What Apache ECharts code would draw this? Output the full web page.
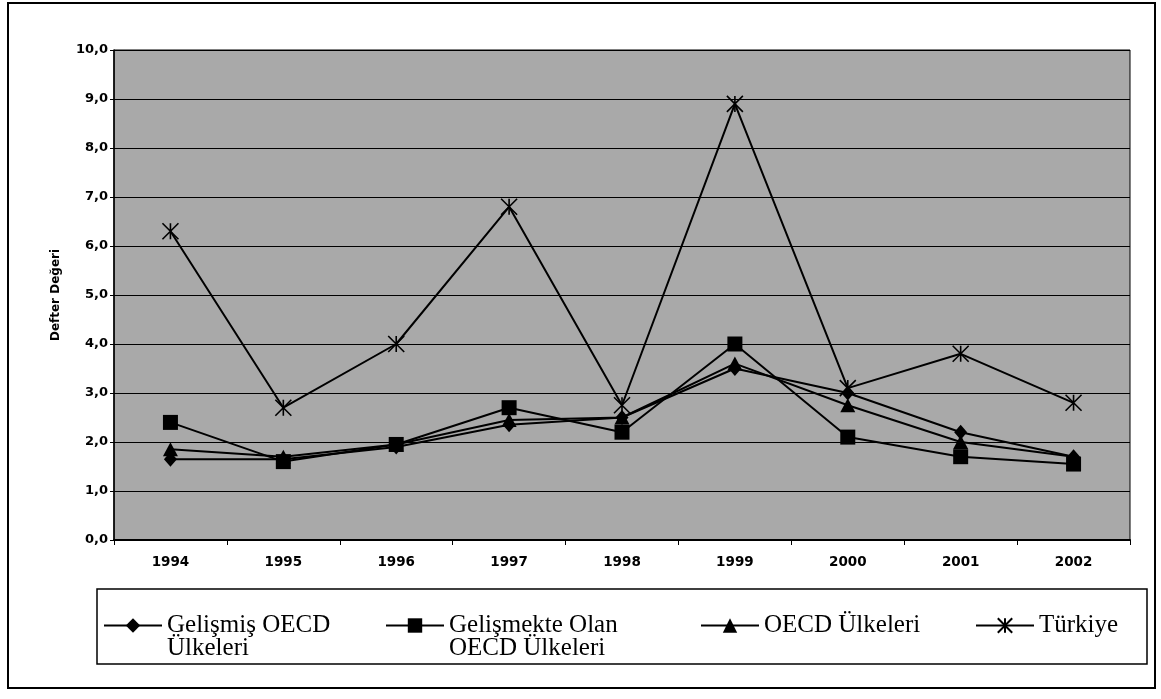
<!DOCTYPE html>
<html><head><meta charset="utf-8">
<script src="https://cdn.jsdelivr.net/npm/echarts@6/dist/echarts.min.js"></script>
<style>html,body{margin:0;padding:0;background:#fff}#c{width:1161px;height:699px}</style>
</head><body><div id="c"></div>
<script>
const years = ['1994','1995','1996','1997','1998','1999','2000','2001','2002'];
const gelismis   = [1.65, 1.65, 1.90, 2.35, 2.50, 3.50, 3.00, 2.20, 1.70];
const gelismekte = [2.40, 1.60, 1.95, 2.70, 2.20, 4.00, 2.10, 1.70, 1.55];
const oecd       = [1.85, 1.70, 1.95, 2.45, 2.50, 3.60, 2.75, 2.00, 1.70];
const turkiye    = [6.30, 2.70, 4.00, 6.80, 2.75, 8.90, 3.10, 3.80, 2.80];
const seriesNames = ['Gelişmiş OECD Ülkeleri','Gelişmekte Olan OECD Ülkeleri','OECD Ülkeleri','Türkiye'];
const legendLabels = ['\nGelişmiş OECD\nÜlkeleri','\nGelişmekte Olan\nOECD Ülkeleri','OECD Ülkeleri','Türkiye'];
const yAxisName = 'Defter Değeri';

const STAR = 'path://M0,0L20,20M20,0L0,20M10,0L10,20';
const symbols = ['diamond','rect','triangle',STAR];
const symSizes = [[13,15],15,[15,14],16];
const values = [gelismis, gelismekte, oecd, turkiye];
const legendLefts = [103, 385, 700, 975];
const legendTops = [590, 590, 613, 613];

const chart = echarts.init(document.getElementById('c'));
const series = seriesNames.map((n,i)=>({
  name:n, type:'line', data:values[i],
  symbol:symbols[i], symbolSize:symSizes[i], showAllSymbol:true,
  lineStyle:{color:'#000', width:2},
  itemStyle: i===3 ? {color:'#000', borderColor:'#000', borderWidth:1.6} : {color:'#000', borderWidth:0},
  emphasis:{disabled:true}, animation:false, z: 2+i
}));
const legends = seriesNames.map((n,i)=>({
  data:[n], left:legendLefts[i], top:legendTops[i], padding:0, orient:'horizontal',
  itemWidth:58, itemHeight:18, itemGap:0, selectedMode:false,
  formatter: ()=>legendLabels[i],
  textStyle:{fontFamily:'Liberation Serif', fontSize:25, color:'#000', lineHeight:23}
}));
chart.setOption({
  animation:false,
  backgroundColor:'#fff',
  grid:{left:114, right:31, top:50, bottom:159, show:true, backgroundColor:'#a9a9a9', borderColor:'#000', borderWidth:1},
  xAxis:{type:'category', data:years, boundaryGap:true,
    axisLine:{lineStyle:{color:'#000', width:2}},
    axisTick:{show:true, length:5, lineStyle:{color:'#000'}},
    axisLabel:{margin:15, color:'#000', fontFamily:'DejaVu Sans', fontWeight:'bold', fontSize:13.5},
    splitLine:{show:false}},
  yAxis:{type:'value', min:0, max:10, interval:1,
    name:yAxisName, nameLocation:'middle', nameRotate:90, nameGap:52,
    nameTextStyle:{fontFamily:'DejaVu Sans', fontWeight:'bold', fontSize:12, color:'#000'},
    axisLine:{show:true, lineStyle:{color:'#000', width:1.5}},
    axisTick:{show:true, length:4, lineStyle:{color:'#000'}},
    axisLabel:{margin:6, color:'#000', fontFamily:'DejaVu Sans', fontWeight:'bold', fontSize:13,
      formatter:v=>v.toFixed(1).replace('.',',')},
    splitLine:{show:true, lineStyle:{color:'#000', width:1}}},
  legend:legends,
  graphic:[
    {type:'rect', z:-1, shape:{x:8,y:3,width:1147,height:685}, style:{fill:'none', stroke:'#000', lineWidth:2}},
    {type:'rect', z:-1, shape:{x:97,y:589,width:1050,height:75}, style:{fill:'#fff', stroke:'#000', lineWidth:1.5}}
  ],
  series
});
</script></body></html>
